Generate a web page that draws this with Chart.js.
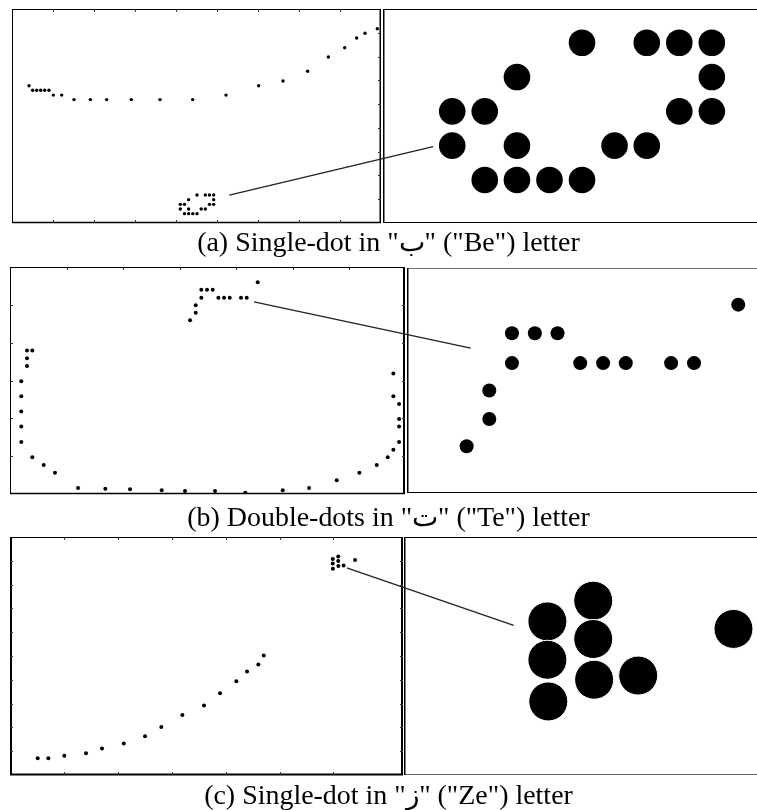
<!DOCTYPE html>
<html><head><meta charset="utf-8">
<script src="https://cdn.jsdelivr.net/npm/chart.js@4.4.1/dist/chart.umd.min.js"></script>
<style>
html,body{margin:0;padding:0;background:#fff;width:757px;height:810px;overflow:hidden;}
canvas.c{position:absolute;}
.cap{position:absolute;left:10px;width:757px;text-align:center;font-family:"Liberation Serif","DejaVu Serif",serif;font-size:27px;color:#000;line-height:30px;white-space:nowrap;transform:scaleX(1.035);transform-origin:center;}
#ov{position:absolute;left:0;top:0;pointer-events:none;}
</style></head>
<body>
<canvas id="aL" class="c"></canvas><canvas id="aR" class="c"></canvas>
<canvas id="bL" class="c"></canvas><canvas id="bR" class="c"></canvas>
<canvas id="cL" class="c"></canvas><canvas id="cR" class="c"></canvas>
<div class="cap" style="top:227px">(a) Single-dot in "ب" ("Be") letter</div>
<div class="cap" style="top:502px">(b) Double-dots in "ت" ("Te") letter</div>
<div class="cap" style="top:780px">(c) Single-dot in "ز" ("Ze") letter</div>
<canvas id="ov" width="757" height="810"></canvas>
<script>
// ---- data: (a) Be letter ----
const aStrokeX = [0.415,0.504,0.602,0.699,0.797,0.902,1.008,1.211,1.512,1.910,2.309,2.910,3.610,4.407,5.220,6.016,6.610,7.210,7.716,8.114,8.407,8.610,8.910];
const aStrokeY = [5.77,5.58,5.58,5.58,5.58,5.58,5.38,5.38,5.19,5.19,5.19,5.19,5.19,5.19,5.38,5.77,5.97,6.38,6.98,7.37,7.78,7.98,8.17];
const aDotX = [4.512,4.715,4.817,4.919, 4.308,4.919, 4.105,4.207,4.817,4.919, 4.105,4.308,4.614,4.715, 4.207,4.308,4.410,4.512];
const aDotY = [1.177,1.177,1.177,1.177, 0.981,0.981, 0.785,0.785,0.785,0.785, 0.589,0.589,0.589,0.589, 0.393,0.393,0.393,0.393];
const aLink = [5.30,1.177, 4.045,0.583];
// ---- data: (b) Te letter ----
const bStrokeX = [6.784,6.784,6.885,6.885,6.885,6.885,6.784,6.684,6.490,6.183,5.782,5.292,4.826,4.165,3.628,3.097,2.684,2.124,1.687,1.204,0.796,0.596,0.395,0.200,0.200,0.200,0.200,0.200,0.301,0.301,0.301,0.395];
const bStrokeY = [3.183,2.584,2.381,1.984,1.781,1.376,1.172,0.970,0.767,0.563,0.362,0.159,0.098,0.034,0.079,0.079,0.098,0.124,0.140,0.159,0.563,0.767,0.970,1.376,1.781,2.178,2.584,2.981,3.386,3.590,3.791,3.791];
const bDotX = [3.186,3.286,3.286,3.386,3.386,3.487,3.587,3.687,3.788,3.888,4.088,4.189,4.384];
const bDotY = [4.595,4.788,4.990,5.185,5.397,5.397,5.397,5.185,5.185,5.185,5.185,5.185,5.600];
const bLink = [4.319,5.08, 3.204,5.292];
// ---- data: (c) Ze letter ----
const cStrokeX = [0.514,0.711,1.007,1.410,1.707,2.110,2.505,2.807,3.197,3.599,3.896,4.199,4.397,4.607,4.707];
const cStrokeY = [0.705,0.705,0.814,0.916,1.110,1.320,1.633,2.013,2.519,2.924,3.430,3.937,4.346,4.641,5.021];
const cDotX = [5.987,5.987,5.989,6.089,6.089,6.091,6.189,6.401];
const cDotY = [9.076,8.882,8.671,9.181,8.987,8.781,8.802,9.038];
const cLink = [6.247,8.705, 5.912,9.056];
// ---- tick positions ----
const aTicksX = [1,2,3,4,5,6,7,8], aTicksY = [1,2,3,4,5,6,7,8];
const bTicksX = [1,2,3,4,5,6], bTicksY = [1,2,3,4,5];
const cTicksX = [1,2,3,4,5,6], cTicksY = [1,2,3,4,5,6,7,8,9];

const PAD = 6;
const boxPlugin = {
  id: 'box',
  afterDatasetsDraw(chart, args, o) {
    const {ctx, chartArea: a, scales: {x, y}} = chart;
    ctx.save();
    const line = (x1, y1, x2, y2, w, col) => { ctx.strokeStyle = col || '#000'; ctx.lineWidth = w; ctx.beginPath(); ctx.moveTo(x1, y1); ctx.lineTo(x2, y2); ctx.stroke(); };
    const b = o.border || {};
    const bc = o.borderColor || {};
    if (b.top) line(a.left, a.top + 0.5, a.right, a.top + 0.5, b.top, bc.top);
    if (b.bottom) line(a.left, a.bottom - 0.5, a.right, a.bottom - 0.5, b.bottom, bc.bottom);
    if (b.left) line(a.left + b.left / 2, a.top, a.left + b.left / 2, a.bottom, b.left, bc.left);
    if (b.right) line(a.right - b.right / 2, a.top, a.right - b.right / 2, a.bottom, b.right, bc.right);
    const L = o.tickLen || 3;
    (o.xTicks || []).forEach(v => {
      const p = Math.round(x.getPixelForValue(v)) + 0.5;
      if (o.tt) line(p, a.top, p, a.top + L, 1, '#333');
      if (o.tb) line(p, a.bottom, p, a.bottom - L, 1, '#333');
    });
    (o.yTicks || []).forEach(v => {
      const p = Math.round(y.getPixelForValue(v)) + 0.5;
      if (o.tl) line(a.left, p, a.left + L, p, 1, '#333');
      if (o.tr) line(a.right, p, a.right - L, p, 1, '#333');
    });
    ctx.restore();
  }
};

function place(id, left, top, right, bottom) {
  const c = document.getElementById(id);
  c.width = (right - left) + 2 * PAD; c.height = (bottom - top) + 2 * PAD;
  c.style.left = (left - PAD) + 'px'; c.style.top = (top - PAD) + 'px';
  return c;
}
function make(id, box, xr, yr, sets, boxOpts) {
  const c = place(id, box[0], box[1], box[2], box[3]);
  return new Chart(c, {
    type: 'scatter',
    data: { datasets: sets.map(s => ({
      data: s.xs.map((v, i) => ({x: v, y: s.ys[i]})),
      pointRadius: s.r, pointBackgroundColor: '#000',
      pointBorderColor: s.bc || '#000', pointBorderWidth: s.bw || 0,
      pointHoverRadius: s.r, showLine: false
    })) },
    options: {
      responsive: false, animation: false, devicePixelRatio: 1,
      layout: { padding: PAD, autoPadding: false },
      events: [],
      plugins: { legend: {display: false}, tooltip: {enabled: false}, box: boxOpts },
      scales: {
        x: { type: 'linear', display: false, min: xr[0], max: xr[1] },
        y: { type: 'linear', display: false, min: yr[0], max: yr[1] }
      }
    },
    plugins: [boxPlugin]
  });
}

const charts = {};
charts.aL = make('aL', [12, 9, 381, 223], [0, 9], [0, 9],
  [{xs: aStrokeX, ys: aStrokeY, r: 1.7}, {xs: aDotX, ys: aDotY, r: 1.7}],
  {border: {top: 1, bottom: 1.5, left: 1, right: 1.5}, xTicks: aTicksX, yTicks: aTicksY, tt: true, tb: true, tr: true, tickLen: 3});
charts.aR = make('aR', [383, 9, 760, 223], [3.888, 5.070], [0.147, 1.370],
  [{xs: aStrokeX, ys: aStrokeY, r: 13.3}, {xs: aDotX, ys: aDotY, r: 13.3}],
  {border: {top: 1, bottom: 1, left: 1.5}});
charts.bL = make('bL', [10, 267, 405, 494], [0, 6.99], [0, 6],
  [{xs: bStrokeX, ys: bStrokeY, r: 2}, {xs: bDotX, ys: bDotY, r: 2}],
  {border: {top: 1, bottom: 1.5, left: 1, right: 2}, xTicks: bTicksX, yTicks: bTicksY, tt: true, tl: true, tr: true, tickLen: 3});
charts.bR = make('bR', [407, 268, 760, 493], [2.923, 4.480], [4.263, 5.860],
  [{xs: bStrokeX, ys: bStrokeY, r: 7}, {xs: bDotX, ys: bDotY, r: 7}],
  {border: {top: 1, bottom: 1, left: 1.5}, borderColor: {top: '#777'}});
charts.cL = make('cL', [10, 537, 403, 775], [0, 7.29], [0, 10],
  [{xs: cStrokeX, ys: cStrokeY, r: 2}, {xs: cDotX, ys: cDotY, r: 2}],
  {border: {top: 1, bottom: 2, left: 2, right: 2}, xTicks: cTicksX, yTicks: cTicksY, tt: true, tb: true, tl: true, tr: true, tickLen: 3});
charts.cR = make('cR', [404, 537, 760, 775], [5.668, 6.460], [8.299, 9.503],
  [{xs: cStrokeX, ys: cStrokeY, r: 19.5, bc: '#fff', bw: 1}, {xs: cDotX, ys: cDotY, r: 19.5, bc: '#fff', bw: 1}],
  {border: {top: 1, left: 1.5, bottom: 1}, borderColor: {bottom: '#666'}});

// connector lines, positioned through each chart's own scales
function pageXY(ch, vx, vy) {
  const c = ch.canvas;
  return [parseFloat(c.style.left) + ch.scales.x.getPixelForValue(vx), parseFloat(c.style.top) + ch.scales.y.getPixelForValue(vy)];
}
const ov = document.getElementById('ov').getContext('2d');
ov.strokeStyle = '#222'; ov.lineWidth = 1.3;
[[charts.aL, charts.aR, aLink], [charts.bL, charts.bR, bLink], [charts.cL, charts.cR, cLink]].forEach(([l, r, k]) => {
  const p = pageXY(l, k[0], k[1]), q = pageXY(r, k[2], k[3]);
  ov.beginPath(); ov.moveTo(p[0], p[1]); ov.lineTo(q[0], q[1]); ov.stroke();
});
</script>
</body></html>
